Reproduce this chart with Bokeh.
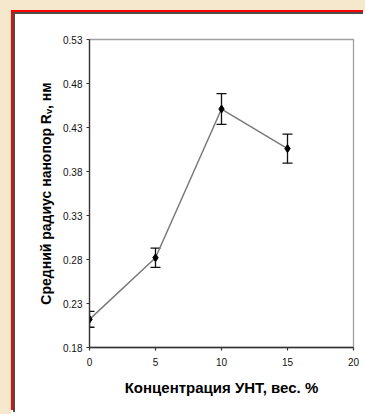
from bokeh.plotting import figure
from bokeh.models import ColumnDataSource, Whisker, TeeHead, Range1d, FixedTicker
from bokeh.embed import file_html
from bokeh.resources import INLINE

# data
conc = [0, 5, 10, 15]
radius = [0.212, 0.282, 0.451, 0.406]
err = [0.009, 0.011, 0.0175, 0.0165]
x_ticks = [0, 5, 10, 15, 20]
y_ticks = [0.18, 0.23, 0.28, 0.33, 0.38, 0.43, 0.48, 0.53]

src = ColumnDataSource(dict(
    x=conc, y=radius,
    lo=[r - e for r, e in zip(radius, err)],
    hi=[r + e for r, e in zip(radius, err)],
))

p = figure(width=350, height=400, output_backend="svg", toolbar_location=None,
           x_range=Range1d(0, 20), y_range=Range1d(0.18, 0.53),
           min_border_left=74, min_border_right=12, min_border_top=25, min_border_bottom=67)
p.styles = {
    "margin-left": "13px", "margin-top": "12px",
    "border-left": "2px solid #4d4d4d", "border-top": "2px solid #4d4d4d",
    "box-shadow": "-2px -2px 0 0 #ff0000, 0 -2px 0 0 #ff0000",
}
p.background_fill_color = "white"
p.border_fill_color = "white"
p.outline_line_color = "#a0a0a0"
p.outline_line_width = 1.3
p.xgrid.visible = False
p.ygrid.visible = False

for ax in (p.xaxis[0], p.yaxis[0]):
    ax.axis_line_color = "#333333"
    ax.axis_line_width = 1.3
    ax.major_tick_line_color = "#333333"
    ax.major_tick_line_width = 1.2
    ax.major_tick_in = 0
    ax.major_tick_out = 3
    ax.minor_tick_line_color = None
    ax.major_label_text_font = "Liberation Sans"
    ax.major_label_text_font_size = "10px"
    ax.major_label_text_color = "#111111"
    ax.axis_label_text_font = "Liberation Sans"
    ax.axis_label_text_font_style = "bold"
    ax.axis_label_text_color = "#000000"

p.xaxis.axis_label_text_font_size = "15px"
p.yaxis.axis_label_text_font_size = "14px"
p.xaxis.ticker = FixedTicker(ticks=x_ticks)
p.yaxis.ticker = FixedTicker(ticks=y_ticks)
p.xaxis.major_label_overrides = {t: str(t) for t in x_ticks}
p.yaxis.major_label_overrides = {t: f"{t:.2f}" for t in y_ticks}
p.xaxis.major_label_standoff = 7
p.yaxis.major_label_standoff = 4
p.xaxis.axis_label = "Концентрация УНТ, вес. %"
p.yaxis.axis_label = "Средний радиус нанопор Rᵥ, нм"
p.xaxis.axis_label_standoff = 10
p.yaxis.axis_label_standoff = 6

p.line("x", "y", source=src, line_color="#7a7a7a", line_width=1.5)
w = Whisker(source=src, base="x", lower="lo", upper="hi",
            line_color="#111111", line_width=1.3,
            upper_head=TeeHead(size=10, line_color="#111111", line_width=1.3),
            lower_head=TeeHead(size=10, line_color="#111111", line_width=1.3))
p.add_layout(w)
p.scatter("x", "y", source=src, marker="diamond", size=8, fill_color="black", line_color="black")

html = file_html(p, INLINE)
css = ("<style>html,body{margin:0;background:"
       "linear-gradient(#f6e8cc,#f6e8cc) 0 0/100% 10px no-repeat,"
       "linear-gradient(#f6e8cc,#f6e8cc) 0 0/11px 100% no-repeat,#ffffff;}</style>")
html = html.replace("</head>", css + "</head>", 1)
open("out.html", "w").write(html)
